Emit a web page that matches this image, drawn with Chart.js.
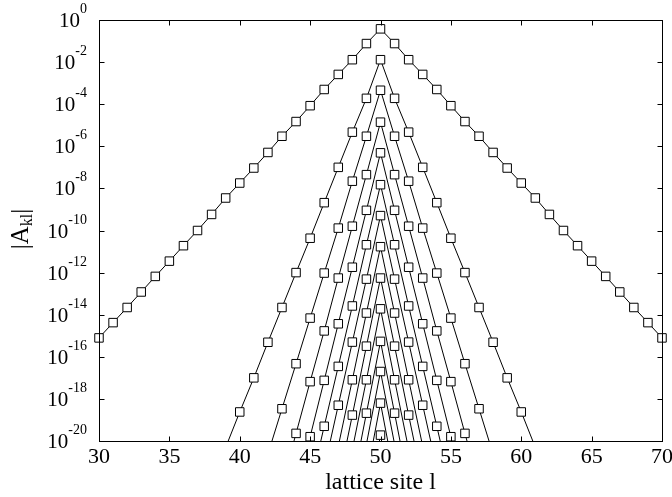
<!DOCTYPE html>
<html>
<head>
<meta charset="utf-8">
<script src="https://cdn.jsdelivr.net/npm/chart.js@4/dist/chart.umd.min.js"></script>
<style>
html, body { margin: 0; padding: 0; background: #fff; }
</style>
</head>
<body>
<canvas id="myChart" width="672" height="497"></canvas>
<script>
// |A_kl|, one array per order k,
// listed by distance from the centre site (0, 1, 2, ...)
var centreSite = 50;
var order0 = [3.8e-1, 7.6e-2, 1.3e-2, 2.6e-3, 5.0e-4, 8.5e-5, 1.5e-5, 3.0e-6, 5.1e-7, 9.3e-8, 1.8e-8,
              3.5e-9, 5.8e-10, 1.0e-10, 1.9e-11, 3.5e-12, 6.6e-13, 1.2e-13, 2.2e-14, 4.2e-15, 7.9e-16];
var order1 = [1.3e-2, 1.9e-4, 4.7e-6, 1.0e-7, 2.1e-9, 4.3e-11, 1.0e-12, 2.2e-14, 4.9e-16, 1.0e-17, 2.4e-19, 5.0e-21];
var order2 = [4.6e-4, 3.0e-6, 2.2e-8, 1.3e-10, 9.5e-13, 6.9e-15, 4.7e-17, 3.4e-19, 2.4e-21];
var order3 = [1.4e-5, 4.5e-8, 1.6e-10, 5.5e-13, 1.7e-15, 6.6e-18, 2.3e-20, 7.9e-23];
var order4 = [4.9e-7, 9.1e-10, 1.8e-12, 3.7e-15, 7.6e-18, 1.6e-20, 3.2e-23];
var order5 = [1.5e-8, 2.1e-11, 2.6e-14, 3.5e-17, 5.0e-20, 6.3e-23];
var order6 = [5.1e-10, 4.9e-13, 5.0e-16, 5.0e-19, 5.0e-22];
var order7 = [1.7e-11, 1.2e-14, 8.1e-18, 5.6e-21];
var order8 = [5.5e-13, 3.2e-16, 1.7e-19, 1.0e-22];
var order9 = [1.9e-14, 8.1e-18, 4.0e-21];
var order10 = [5.4e-16, 2.1e-19, 7.9e-23];
var order11 = [2.0e-17, 7.1e-21];
var order12 = [6.3e-19, 2.0e-22];
var order13 = [1.9e-20, 5.0e-24];

var xTicks = [30, 35, 40, 45, 50, 55, 60, 65, 70];
var yExponents = [0, -2, -4, -6, -8, -10, -12, -14, -16, -18, -20];

var orders = [order0, order1, order2, order3, order4, order5, order6,
              order7, order8, order9, order10, order11, order12, order13];

// profiles are symmetric about the centre site
function toPoints(profile) {
    var pts = [];
    for (var j = profile.length - 1; j > 0; j--) pts.push({x: centreSite - j, y: profile[j]});
    pts.push({x: centreSite, y: profile[0]});
    for (var j = 1; j < profile.length; j++) pts.push({x: centreSite + j, y: profile[j]});
    return pts;
}

var serif = '"Liberation Serif", "Times New Roman", serif';

var frame = {
    id: 'frame',
    afterDraw: function(chart) {
        var c = chart.ctx, a = chart.chartArea;
        var xs = chart.scales.x, ys = chart.scales.y;
        var L = Math.round(a.left) + 0.5, R = Math.round(a.right) + 0.5;
        var T = Math.round(a.top) + 0.5, B = Math.round(a.bottom) + 0.5;
        c.save();
        c.strokeStyle = '#000';
        c.lineWidth = 1;
        c.strokeRect(L, T, R - L, B - T);
        c.beginPath();
        xTicks.forEach(function(v) {
            var x = Math.round(xs.getPixelForValue(v)) + 0.5;
            c.moveTo(x, B); c.lineTo(x, B - 5);
            c.moveTo(x, T); c.lineTo(x, T + 5);
        });
        yExponents.forEach(function(e) {
            var y = Math.round(ys.getPixelForValue(Math.pow(10, e))) + 0.5;
            c.moveTo(L, y); c.lineTo(L + 5, y);
            c.moveTo(R, y); c.lineTo(R - 5, y);
        });
        c.stroke();

        c.fillStyle = '#000';
        // y tick labels 10^e
        yExponents.forEach(function(e) {
            var y = ys.getPixelForValue(Math.pow(10, e));
            var ex = String(e);
            c.font = '14px ' + serif;
            var ew = c.measureText(ex).width;
            c.textAlign = 'left';
            c.textBaseline = 'alphabetic';
            c.fillText(ex, 87 - ew, y - 7);
            c.font = '21px ' + serif;
            c.textAlign = 'right';
            c.fillText('10', 87 - ew, y + 7);
        });
        // x tick labels
        c.font = '22px ' + serif;
        c.textAlign = 'center';
        xTicks.forEach(function(v) {
            c.fillText(String(v), xs.getPixelForValue(v), 463);
        });
        // x title
        c.font = '24px ' + serif;
        c.fillText('lattice site l', (a.left + a.right) / 2, 489);

        // y title |A_kl|
        c.translate(28, 229);
        c.rotate(-Math.PI / 2);
        c.textAlign = 'left';
        c.font = '25px ' + serif;
        var w1 = c.measureText('|A').width;
        var w3 = c.measureText('|').width;
        c.font = '16px ' + serif;
        var w2 = c.measureText('kl').width;
        var x0 = -(w1 + w2 + w3) / 2;
        c.font = '25px ' + serif;
        c.fillText('|A', x0, 0);
        c.font = '16px ' + serif;
        c.fillText('kl', x0 + w1, 4);
        c.font = '25px ' + serif;
        c.fillText('|', x0 + w1 + w2, 0);
        c.restore();
    }
};

var ctx = document.getElementById('myChart').getContext('2d');
var chart = new Chart(ctx, {
    type: 'line',
    data: {
        datasets: orders.map(function(p, k) {
            return {
                label: 'k=' + k,
                data: toPoints(p),
                borderColor: '#000',
                borderWidth: 1,
                backgroundColor: '#fff',
                pointStyle: 'rect',
                pointBackgroundColor: '#fff',
                pointBorderColor: '#000',
                pointBorderWidth: 1,
                pointRadius: function(c) {
                    return (c.raw && c.raw.y < 1e-20) ? 0 : 6;
                },
                tension: 0,
                fill: false,
                clip: {left: 8, right: 8, top: 8, bottom: 0}
            };
        })
    },
    options: {
        responsive: false,
        animation: false,
        events: [],
        layout: { padding: { top: 20, right: 10, left: 0, bottom: 0 } },
        plugins: { legend: { display: false }, tooltip: { enabled: false } },
        scales: {
            x: {
                type: 'linear', min: 30, max: 70,
                grid: { display: false, drawTicks: false },
                border: { display: false },
                ticks: { display: false },
                afterFit: function(s) { s.height = 56; }
            },
            y: {
                type: 'logarithmic', min: 1e-20, max: 1,
                grid: { display: false, drawTicks: false },
                border: { display: false },
                ticks: { display: false },
                afterFit: function(s) { s.width = 99; }
            }
        }
    },
    plugins: [frame]
});
</script>
</body>
</html>
